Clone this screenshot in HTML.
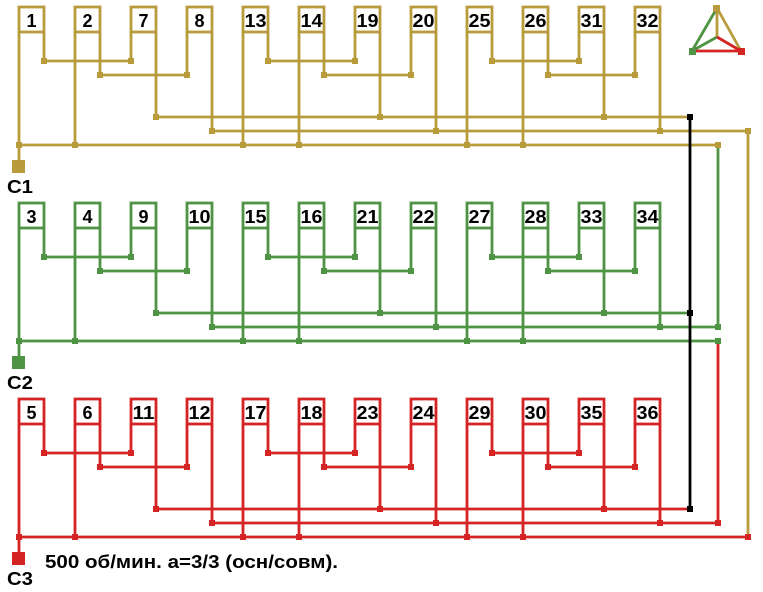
<!DOCTYPE html>
<html><head><meta charset="utf-8"><style>
html,body{margin:0;padding:0;background:#fff;}
svg{display:block;}
text{font-family:"Liberation Sans",sans-serif;font-weight:bold;}
</style></head><body>
<svg width="763" height="592" viewBox="0 0 763 592" xmlns="http://www.w3.org/2000/svg">
<defs>
<path id="legs" d="M19 32V145 M44 32V61H131V32 M75 32V145 M100 32V75H187V32 M156 32V117 M212 32V131 M243 32V145 M268 32V61H355V32 M299 32V145 M324 32V75H411V32 M380 32V117 M436 32V131 M467 32V145 M492 32V61H579V32 M523 32V145 M548 32V75H635V32 M604 32V117 M660 32V131 M156 117H690 M19 145V160"/>
<g id="boxes">
<rect x="19" y="7" width="25" height="25"/><rect x="75" y="7" width="25" height="25"/><rect x="131" y="7" width="25" height="25"/><rect x="187" y="7" width="25" height="25"/>
<rect x="243" y="7" width="25" height="25"/><rect x="299" y="7" width="25" height="25"/><rect x="355" y="7" width="25" height="25"/><rect x="411" y="7" width="25" height="25"/>
<rect x="467" y="7" width="25" height="25"/><rect x="523" y="7" width="25" height="25"/><rect x="579" y="7" width="25" height="25"/><rect x="635" y="7" width="25" height="25"/>
</g>
<path id="dots" d="M16 142h6v6h-6z M72 142h6v6h-6z M240 142h6v6h-6z M296 142h6v6h-6z M464 142h6v6h-6z M520 142h6v6h-6z M41 58h6v6h-6z M128 58h6v6h-6z M97 72h6v6h-6z M184 72h6v6h-6z M265 58h6v6h-6z M352 58h6v6h-6z M321 72h6v6h-6z M408 72h6v6h-6z M489 58h6v6h-6z M576 58h6v6h-6z M545 72h6v6h-6z M632 72h6v6h-6z M153 114h6v6h-6z M377 114h6v6h-6z M601 114h6v6h-6z M209 128h6v6h-6z M433 128h6v6h-6z M657 128h6v6h-6z M12 160h13v13h-13z"/>
</defs>

<!-- Row 1 gold -->
<g transform="translate(0,0)">
<g fill="none" stroke="#b89c3c" stroke-width="2.8"><use href="#legs"/><path d="M212 131H748 M19 145H718"/></g>
<use href="#dots" fill="#b89c3c"/>
<use href="#boxes" fill="#fff" stroke="#b89c3c" stroke-width="2.8"/>
<g font-size="18" text-anchor="middle" lengthAdjust="spacingAndGlyphs">
<text x="31.5" y="27">1</text><text x="87.5" y="27">2</text><text x="143.5" y="27">7</text><text x="199.5" y="27">8</text>
<text x="255.5" y="27" textLength="22" lengthAdjust="spacingAndGlyphs">13</text><text x="311.5" y="27" textLength="22" lengthAdjust="spacingAndGlyphs">14</text><text x="367.5" y="27" textLength="22" lengthAdjust="spacingAndGlyphs">19</text><text x="423.5" y="27" textLength="22" lengthAdjust="spacingAndGlyphs">20</text>
<text x="479.5" y="27" textLength="22" lengthAdjust="spacingAndGlyphs">25</text><text x="535.5" y="27" textLength="22" lengthAdjust="spacingAndGlyphs">26</text><text x="591.5" y="27" textLength="22" lengthAdjust="spacingAndGlyphs">31</text><text x="647.5" y="27" textLength="22" lengthAdjust="spacingAndGlyphs">32</text>
</g>
<text x="7" y="193" font-size="18" textLength="26" lengthAdjust="spacingAndGlyphs">C1</text>
</g>

<!-- Row 2 green -->
<g transform="translate(0,196)">
<g fill="none" stroke="#4f9444" stroke-width="2.8"><use href="#legs"/><path d="M212 131H718 M19 145H718"/></g>
<use href="#dots" fill="#4f9444"/>
<use href="#boxes" fill="#fff" stroke="#4f9444" stroke-width="2.8"/>
<g font-size="18" text-anchor="middle">
<text x="31.5" y="27">3</text><text x="87.5" y="27">4</text><text x="143.5" y="27">9</text><text x="199.5" y="27" textLength="22" lengthAdjust="spacingAndGlyphs">10</text>
<text x="255.5" y="27" textLength="22" lengthAdjust="spacingAndGlyphs">15</text><text x="311.5" y="27" textLength="22" lengthAdjust="spacingAndGlyphs">16</text><text x="367.5" y="27" textLength="22" lengthAdjust="spacingAndGlyphs">21</text><text x="423.5" y="27" textLength="22" lengthAdjust="spacingAndGlyphs">22</text>
<text x="479.5" y="27" textLength="22" lengthAdjust="spacingAndGlyphs">27</text><text x="535.5" y="27" textLength="22" lengthAdjust="spacingAndGlyphs">28</text><text x="591.5" y="27" textLength="22" lengthAdjust="spacingAndGlyphs">33</text><text x="647.5" y="27" textLength="22" lengthAdjust="spacingAndGlyphs">34</text>
</g>
<text x="7" y="193" font-size="18" textLength="26" lengthAdjust="spacingAndGlyphs">C2</text>
</g>

<!-- Row 3 red -->
<g transform="translate(0,392)">
<g fill="none" stroke="#d42424" stroke-width="2.8"><use href="#legs"/><path d="M212 131H718 M19 145H748"/></g>
<use href="#dots" fill="#d42424"/>
<use href="#boxes" fill="#fff" stroke="#d42424" stroke-width="2.8"/>
<g font-size="18" text-anchor="middle">
<text x="31.5" y="27">5</text><text x="87.5" y="27">6</text><text x="143.5" y="27" textLength="22" lengthAdjust="spacingAndGlyphs">11</text><text x="199.5" y="27" textLength="22" lengthAdjust="spacingAndGlyphs">12</text>
<text x="255.5" y="27" textLength="22" lengthAdjust="spacingAndGlyphs">17</text><text x="311.5" y="27" textLength="22" lengthAdjust="spacingAndGlyphs">18</text><text x="367.5" y="27" textLength="22" lengthAdjust="spacingAndGlyphs">23</text><text x="423.5" y="27" textLength="22" lengthAdjust="spacingAndGlyphs">24</text>
<text x="479.5" y="27" textLength="22" lengthAdjust="spacingAndGlyphs">29</text><text x="535.5" y="27" textLength="22" lengthAdjust="spacingAndGlyphs">30</text><text x="591.5" y="27" textLength="22" lengthAdjust="spacingAndGlyphs">35</text><text x="647.5" y="27" textLength="22" lengthAdjust="spacingAndGlyphs">36</text>
</g>
<text x="7" y="193" font-size="18" textLength="26" lengthAdjust="spacingAndGlyphs">C3</text>
</g>

<!-- cross verticals -->
<path d="M718 145V327" stroke="#4f9444" stroke-width="2.8"/>
<path d="M718 341V523" stroke="#d42424" stroke-width="2.8"/>
<path d="M748 131V537" stroke="#b89c3c" stroke-width="2.8"/>
<path d="M690 117V509" stroke="#000" stroke-width="2.8"/>
<path d="M687 114h6v6h-6z M687 310h6v6h-6z M687 506h6v6h-6z" fill="#000"/>
<path d="M745 128h6v6h-6z M715 142h6v6h-6z" fill="#b89c3c"/>
<path d="M715 324h6v6h-6z M715 338h6v6h-6z" fill="#4f9444"/>
<path d="M715 520h6v6h-6z M745 534h6v6h-6z" fill="#d42424"/>

<text x="45" y="568" font-size="18" textLength="293" lengthAdjust="spacingAndGlyphs">500 об/мин. a=3/3 (осн/совм).</text>

<!-- triangle icon -->
<g stroke-width="2.8" fill="none">
<path d="M717 8L741 51 M717 8V37" stroke="#b89c3c"/>
<path d="M717 8L692 51 M717 37L692 51" stroke="#4f9444"/>
<path d="M692 51H741 M717 37L741 51" stroke="#d42424"/>
</g>
<rect x="713" y="5" width="7" height="7" fill="#b89c3c"/>
<rect x="689" y="48" width="7" height="7" fill="#4f9444"/>
<rect x="738" y="48" width="7" height="7" fill="#d42424"/>
</svg>
</body></html>
